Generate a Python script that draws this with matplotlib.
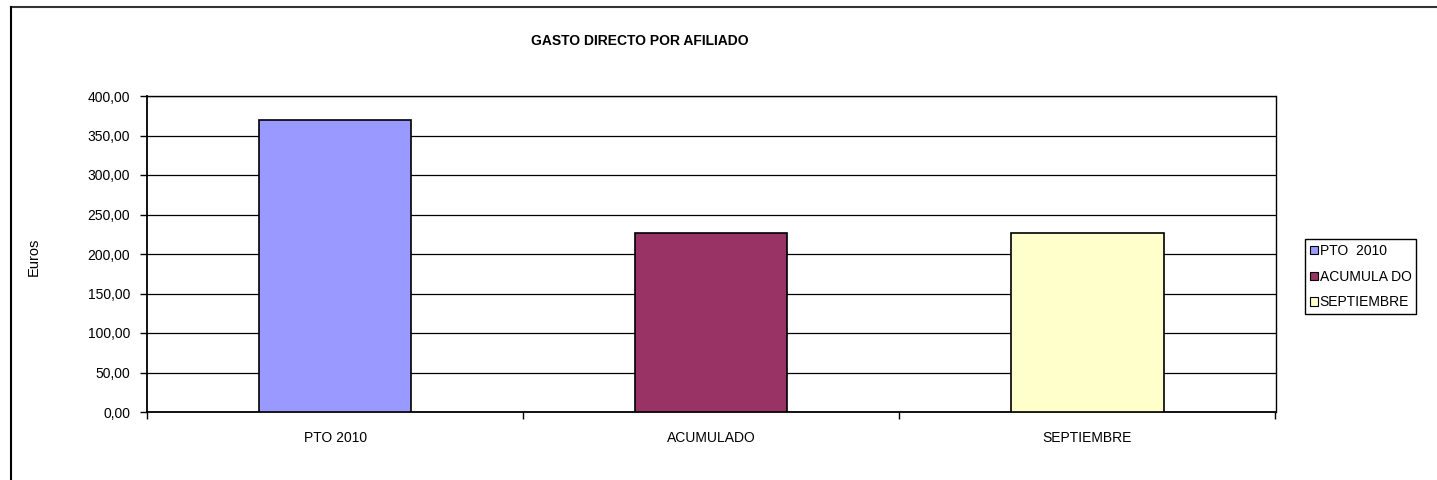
import matplotlib
matplotlib.use("Agg")
import matplotlib.pyplot as plt
from matplotlib.patches import Patch
from matplotlib.lines import Line2D
from matplotlib.ticker import FixedLocator, FuncFormatter

plt.rcParams['font.family'] = ['Liberation Sans', 'DejaVu Sans']

categories = ["PTO 2010", "ACUMULADO", "SEPTIEMBRE"]
values = [370.0, 227.0, 226.5]
legend_labels = ["PTO  2010", "ACUMULA DO", "SEPTIEMBRE"]
colors = ["#9999FF", "#993366", "#FFFFCC"]
yticks = [0, 50, 100, 150, 200, 250, 300, 350, 400]

W, H = 1437, 480
fig = plt.figure(figsize=(W / 100, H / 100), dpi=100)
ax = fig.add_axes([147 / W, 1 - 412 / H, (1275.5 - 147) / W, (412 - 96) / H])

x = list(range(len(categories)))
ax.bar(x, values, width=0.405, color=colors, edgecolor="black", linewidth=1.2, zorder=3)

ax.set_xlim(-0.5, len(categories) - 0.5)
ax.set_ylim(0, 400)
ax.set_yticks(yticks)
ax.yaxis.set_major_formatter(FuncFormatter(lambda v, p: f"{v:.2f}".replace(".", ",")))
ax.yaxis.grid(True, color="black", linewidth=0.9, zorder=0)
ax.set_xticks(x)
ax.set_xticklabels(categories)
ax.xaxis.set_minor_locator(FixedLocator([i - 0.5 for i in range(len(categories) + 1)]))
ax.tick_params(axis="x", which="major", length=0, pad=14, labelsize=10)
ax.tick_params(axis="x", which="minor", length=5, width=1, direction="out")
ax.tick_params(axis="y", length=5, width=1, direction="out", labelsize=10, pad=7)
for s in ax.spines.values():
    s.set_linewidth(1)
    s.set_color("black")
ax.spines['left'].set_linewidth(1.3)
ax.spines['bottom'].set_linewidth(1.3)

ax.set_ylabel("Euros", fontsize=10.5)
ax.yaxis.set_label_coords((41 - 147) / (1275.5 - 147), 0.49)

fig.text(640 / W, 1 - 41 / H, "GASTO DIRECTO POR AFILIADO", ha="center", va="center",
         fontsize=10, fontweight="bold")

handles = [Patch(facecolor=c, edgecolor="black", linewidth=0.8) for c in colors]
leg = fig.legend(handles, legend_labels, loc="upper left",
                 bbox_to_anchor=(1305 / W, 1 - 239 / H), bbox_transform=fig.transFigure,
                 fontsize=10, handlelength=0.55, handleheight=0.55, handletextpad=0.15,
                 labelspacing=0.85, borderpad=0.35, fancybox=False, framealpha=1,
                 edgecolor="black", borderaxespad=0)
leg.get_frame().set_linewidth(1)

fig.add_artist(Line2D([11 / W, 1.0], [1 - 7 / H, 1 - 7 / H], transform=fig.transFigure,
                      color="#333333", linewidth=1.5))
fig.add_artist(Line2D([11 / W, 11 / W], [1 - 7 / H, 0.0], transform=fig.transFigure,
                      color="black", linewidth=1.5))

fig.savefig("out.png", dpi=100)
